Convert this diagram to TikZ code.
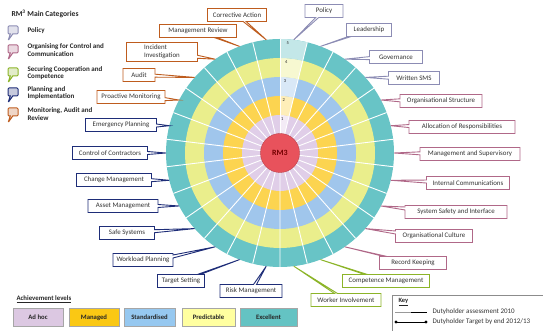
\documentclass[tikz,border=0pt]{standalone}
\usepackage{fontspec}
\setmainfont{Carlito}
\usetikzlibrary{shapes.callouts}
\definecolor{ringE}{RGB}{104,196,198}
\definecolor{ringP}{RGB}{234,238,140}
\definecolor{ringS}{RGB}{160,198,236}
\definecolor{ringM}{RGB}{252,212,80}
\definecolor{ringA}{RGB}{224,206,232}
\definecolor{rmred}{RGB}{232,82,92}
\definecolor{polc}{RGB}{140,140,180}
\definecolor{orgc}{RGB}{176,104,136}
\definecolor{secc}{RGB}{140,180,40}
\definecolor{plnc}{RGB}{30,45,120}
\definecolor{monc}{RGB}{190,92,30}
\definecolor{lvA}{RGB}{220,200,226}
\definecolor{lvM}{RGB}{250,200,20}
\definecolor{lvS}{RGB}{150,200,240}
\definecolor{lvP}{RGB}{255,255,160}
\definecolor{lvE}{RGB}{100,195,195}
\begin{document}
\begin{tikzpicture}[x=1pt,y=1pt,
  lbl/.style={rectangle callout, draw=#1, fill=white, line width=0.9pt, text=black!80,
    font=\fontsize{6.9}{8}\selectfont, minimum height=13pt, inner xsep=2pt, inner ysep=1pt,
    callout pointer width=3pt},
  icon/.style={rectangle callout, draw=#1, fill=#1!25, line width=1pt, rounded corners=1pt,
    minimum width=10pt, minimum height=8pt, inner sep=0pt, callout pointer width=2.5pt,
    callout relative pointer={(-3,-6.5)}},
  legtxt/.style={anchor=west, align=left, text=black!85, font=\bfseries\fontsize{7}{7.8}\selectfont},
  lvl/.style={draw=black!35, line width=0.5pt, fill=#1, minimum height=18pt, text=black!85,
    font=\bfseries\fontsize{6.7}{7.5}\selectfont},
  keytxt/.style={anchor=west, text=black!80, font=\fontsize{7}{8}\selectfont},
  lvnum/.style={text=black!85, font=\fontsize{4.5}{4.5}\selectfont, inner sep=0pt}]
\useasboundingbox (0,0) rectangle (543,331);

% ---- wheel ----
\begin{scope}[shift={(280,178)}]
  \fill[ringE] (0,0) circle[radius=114];
  \fill[ringP] (0,0) circle[radius=95];
  \fill[ringS] (0,0) circle[radius=76];
  \fill[ringM] (0,0) circle[radius=57];
  \fill[ringA] (0,0) circle[radius=38];
  \foreach \c/\ri/\ro in {ringA/19/38, ringM/38/57, ringS/57/76, ringP/76/95, ringE/95/114}
    \fill[\c!40!white] (90:\ri) arc[start angle=90, end angle=76.154, radius=\ri]
      -- (76.154:\ro) arc[start angle=76.154, end angle=90, radius=\ro] -- cycle;
  \foreach \i in {0,...,25}
    \draw[white, line width=0.9pt] ({90-13.846*\i}:19) -- ({90-13.846*\i}:114);
  \node[circle, fill=rmred, draw=rmred!80!black, line width=0.4pt, minimum size=39pt, inner sep=0pt,
    text=red!45!black, font=\bfseries\fontsize{8}{9}\selectfont] (rm3) at (0,0) {RM3};
  \foreach \i in {0,...,25}
    \coordinate (p\i) at ({83.077-13.846*\i}:114);
  \node[lvnum] (n5) at (86:110) {5};
  \node[lvnum] (n4) at (86:91) {4};
  \node[lvnum] (n3) at (86:72) {3};
  \node[lvnum] (n2) at (86:53) {2};
  \node[lvnum] (n1) at (86:34) {1};
\end{scope}

% ---- labels ----
\node[lbl=polc, minimum width=38pt, callout absolute pointer={(p0)}] (l0) at (324,320) {Policy};
\node[lbl=polc, minimum width=45pt, callout absolute pointer={(p1)}] (l1) at (369,301) {Leadership};
\node[lbl=polc, minimum width=53pt, callout absolute pointer={(p2)}] (l2) at (396,274) {Governance};
\node[lbl=polc, minimum width=51pt, callout absolute pointer={(p3)}] (l3) at (414,253) {Written SMS};
\node[lbl=orgc, minimum width=82pt, callout absolute pointer={(p4)}] (l4) at (441,230) {Organisational Structure};
\node[lbl=orgc, minimum width=106pt, callout absolute pointer={(p5)}] (l5) at (462,204) {Allocation of Responsibilities};
\node[lbl=orgc, minimum width=100pt, callout absolute pointer={(p6)}] (l6) at (470,177) {Management and Supervisory};
\node[lbl=orgc, minimum width=83pt, callout absolute pointer={(p7)}] (l7) at (468,148) {Internal Communications};
\node[lbl=orgc, minimum width=102pt, callout absolute pointer={(p8)}] (l8) at (456,119) {System Safety and Interface};
\node[lbl=orgc, minimum width=77pt, callout absolute pointer={(p9)}] (l9) at (434,95) {Organisational Culture};
\node[lbl=orgc, minimum width=67pt, callout absolute pointer={(p10)}] (l10) at (413,68) {Record Keeping};
\node[lbl=secc, minimum width=87pt, callout absolute pointer={(p11)}] (l11) at (386,50) {Competence Management};
\node[lbl=secc, minimum width=70pt, callout absolute pointer={(p12)}] (l12) at (346,31) {Worker Involvement};
\node[lbl=plnc, minimum width=62pt, callout absolute pointer={(p13)}] (l13) at (251,40) {Risk Management};
\node[lbl=plnc, minimum width=47pt, callout absolute pointer={(p14)}] (l14) at (181,50) {Target Setting};
\node[lbl=plnc, minimum width=60pt, callout absolute pointer={(p15)}] (l15) at (143,71) {Workload Planning};
\node[lbl=plnc, minimum width=55pt, callout absolute pointer={(p16)}] (l16) at (127,98) {Safe Systems};
\node[lbl=plnc, minimum width=70pt, callout absolute pointer={(p17)}] (l17) at (123,125) {Asset Management};
\node[lbl=plnc, minimum width=75pt, callout absolute pointer={(p18)}] (l18) at (114,151) {Change Management};
\node[lbl=plnc, minimum width=75pt, callout absolute pointer={(p19)}] (l19) at (110,178) {Control of Contractors};
\node[lbl=plnc, minimum width=71pt, callout absolute pointer={(p20)}] (l20) at (121,206) {Emergency Planning};
\node[lbl=monc, minimum width=68pt, callout absolute pointer={(p21)}] (l21) at (131,234) {Proactive Monitoring};
\node[lbl=monc, minimum width=32pt, callout absolute pointer={(p22)}] (l22) at (139,256) {Audit};
\node[lbl=monc, minimum width=71pt, minimum height=19pt, align=left, callout absolute pointer={(p23)}] (l23) at (162,279) {Incident\\Investigation};
\node[lbl=monc, minimum width=77pt, callout absolute pointer={(p24)}] (l24) at (198,300) {Management Review};
\node[lbl=monc, minimum width=59pt, callout absolute pointer={(p25)}] (l25) at (237,316) {Corrective Action};

% ---- category legend ----
\node[anchor=west, text=black!85, font=\bfseries\fontsize{7.6}{8.5}\selectfont] (cattitle) at (8,317) {RM\textsuperscript{3} Main Categories};
\node[icon=polc] (ic1) at (13,301) {};
\node[legtxt] (tx1) at (24,300) {Policy};
\node[icon=orgc] (ic2) at (13,282) {};
\node[legtxt] (tx2) at (24,281) {Organising for Control and\\Communication};
\node[icon=secc] (ic3) at (13,259) {};
\node[legtxt] (tx3) at (24,258) {Securing Cooperation and\\Competence};
\node[icon=plnc] (ic4) at (13,239) {};
\node[legtxt] (tx4) at (24,238) {Planning and\\Implementation};
\node[icon=monc] (ic5) at (13,219) {};
\node[legtxt] (tx5) at (24,217) {Monitoring, Audit and\\Review};

% ---- achievement levels ----
\node[anchor=west, text=black!85, font=\bfseries\fontsize{6.8}{7.5}\selectfont] (achtitle) at (13,32) {\underline{Achievement levels}};
\node[lvl=lvA, minimum width=50pt] (a1) at (38,13.5) {Ad hoc};
\node[lvl=lvM, minimum width=50pt] (a2) at (94,13.5) {Managed};
\node[lvl=lvS, minimum width=51pt] (a3) at (149.5,13.5) {Standardised};
\node[lvl=lvP, minimum width=53pt] (a4) at (208.5,13.5) {Predictable};
\node[lvl=lvE, minimum width=57pt] (a5) at (268.5,13.5) {Excellent};

% ---- key ----
\draw[black!45, line width=0.6pt] (392,-5) rectangle (550,36);
\node[anchor=west, text=black!85, font=\bfseries\fontsize{6.5}{7}\selectfont] (keyt) at (395,29) {\underline{Key}};
\coordinate (k1a) at (395,19);
\coordinate (k1b) at (411,19);
\coordinate (k1c) at (427,19);
\draw[black!40, line width=0.6pt] (k1a) -- (k1b);
\draw[black, line width=0.9pt] (k1b) -- (k1c);
\node[keytxt] (kt1) at (429,19) {Dutyholder assessment 2010};
\coordinate (k2a) at (396,9);
\coordinate (k2b) at (426,9);
\draw[black, line width=0.9pt] (k2a) -- (k2b);
\fill[black] (k2a) circle[radius=1.6];
\fill[black] (k2b) circle[radius=1.6];
\node[keytxt] (kt2) at (429,9) {Dutyholder Target by end 2012/13};
\end{tikzpicture}
\end{document}
